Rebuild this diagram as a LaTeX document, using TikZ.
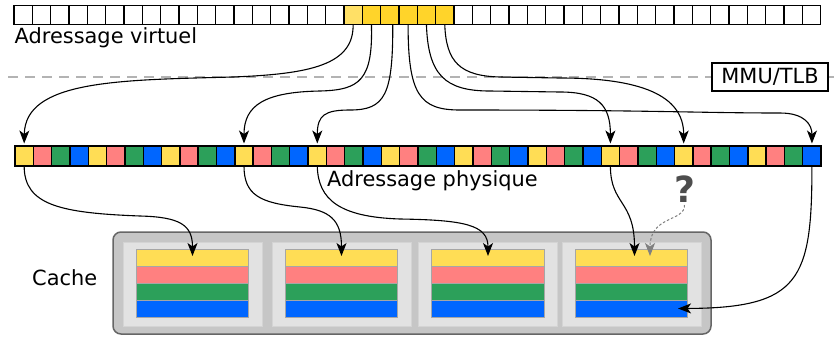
\documentclass[tikz,border=0pt]{standalone}
\usepackage{fontspec}
\setmainfont{DejaVu Sans}
\usetikzlibrary{arrows.meta}

\definecolor{cyel}{HTML}{FFDD55}
\definecolor{cpink}{HTML}{FF8080}
\definecolor{cgreen}{HTML}{2CA05A}
\definecolor{cblue}{HTML}{0066FF}
\definecolor{vyel}{HTML}{FFD42A}
\definecolor{vyellight}{HTML}{FFE066}
\definecolor{dashgray}{HTML}{B3B3B3}
\definecolor{qgray}{HTML}{4D4D4D}
\definecolor{cacheout}{HTML}{C6C6C6}
\definecolor{cacheedge}{HTML}{666666}
\definecolor{panelfill}{HTML}{E2E2E2}
\definecolor{paneledge}{HTML}{D4D4D4}
\colorlet{vfill0}{white}
\colorlet{vfill1}{vyel}
\colorlet{vfill2}{vyellight}
\colorlet{pfill0}{cyel}
\colorlet{pfill1}{cpink}
\colorlet{pfill2}{cgreen}
\colorlet{pfill3}{cblue}

\begin{document}
\begin{tikzpicture}[x=1pt,y=-1pt,
  font=\fontsize{20.9pt}{24pt}\selectfont,
  cell/.style={draw=black, line width=1.4pt, minimum width=18.33pt,
    inner sep=0pt, outer sep=0pt},
  label/.style={inner sep=0pt, anchor=base west},
  panel/.style={fill=panelfill, draw=paneledge, line width=0.8pt,
    minimum width=139pt, minimum height=84pt, inner sep=0pt},
  stripe/.style={draw=black!35, line width=0.6pt, minimum width=112.5pt,
    minimum height=17pt, inner sep=0pt},
  arrowtip/.style={-{Stealth[length=13pt,width=10pt,inset=3.5pt]}},
  link/.style={draw=black, line width=1.1pt, arrowtip},
  guess/.style={draw=gray, line width=1pt, dash pattern=on 2.5pt off 2pt, arrowtip}]

\useasboundingbox (0,0) rectangle (837,338);

% MMU boundary
\coordinate (dl) at (8,77);
\coordinate (dr) at (837,77);
\draw[dashgray, line width=1.2pt, dash pattern=on 10pt off 7pt] (dl) -- (dr);
\node[draw=black, fill=white, line width=1.2pt, minimum width=116pt,
  minimum height=28pt, inner sep=0pt] (mmu) at (770,77) {MMU/TLB};

% virtual address bar
\foreach \i in {0,...,43}{
  \pgfmathtruncatemacro\t{(\i==18) ? 2 : ((\i>18 && \i<24) ? 1 : 0)}
  \node[cell, minimum height=18.5pt, fill=vfill\t] (v\i)
    at ({14+18.33*(\i+0.5)},15) {};
}
\node[label] (vlab) at (14.5,43.5) {Adressage virtuel};

% physical address bar
\foreach \i in {0,...,43}{
  \pgfmathtruncatemacro\k{mod(\i,4)}
  \node[cell, minimum height=20pt, fill=pfill\k] (p\i)
    at ({15+18.32*(\i+0.5)},156) {};
}
\node[label] (plab) at (327,186) {Adressage physique};

% cache
\node[label] (clab) at (32,285) {Cache};
\node[fill=cacheout, draw=cacheedge, line width=1.5pt, rounded corners=8pt,
  minimum width=598pt, minimum height=102pt, inner sep=0pt] (cache) at (412,283) {};
\foreach \n/\cx in {1/192.5, 2/341.5, 3/488, 4/631.5}{
  \node[panel] (k\n) at (\cx,284) {};
  \foreach \s/\c [count=\j from 0] in {y/cyel, r/cpink, g/cgreen, b/cblue}{
    \node[stripe, fill=\c] (c\n\s) at (\cx,{257.5+17*\j}) {};
  }
}

% translation: virtual pages to physical frames
\draw[link] (v18.south) .. controls (354,65) and (310,74) .. (233,77)
  .. controls (120,80) and (25,80) .. ([yshift=2.5pt]p0.north);
\draw[link] (v19.south) .. controls (373,80) and (360,90) .. (320,91)
  .. controls (265,92) and (244,105) .. ([yshift=2.5pt]p12.north);
\draw[link] ([xshift=3pt]v20.south) .. controls (393,95) and (385,110) .. (350,110)
  .. controls (325,110) and (317.3,115) .. ([yshift=2.5pt]p16.north);
\draw[link] (v21.south) .. controls (408,95) and (420,110) .. (460,110)
  .. controls (650,110) and (700,113) .. (780,113)
  .. controls (805,113) and (812,125) .. ([yshift=2.5pt]p43.north);
\draw[link] (v22.south) .. controls (428,75) and (445,91) .. (490,91)
  -- (560,92) .. controls (598,92) and (610.4,105) .. ([yshift=2.5pt]p32.north);
\draw[link] (v23.south) .. controls (446,62) and (460,76) .. (500,77)
  -- (560,78) .. controls (640,78) and (683.7,95) .. ([yshift=2.5pt]p36.north);

% physical frames to cache lines
\draw[link] (p0.south) .. controls (24.2,205) and (60,213) .. (140,216)
  .. controls (180,217) and (192.5,225) .. ([yshift=1.5pt]c1y.center);
\draw[link] (p12.south) .. controls (244,195) and (260,203) .. (300,207)
  .. controls (330,210) and (341.5,220) .. ([yshift=1.5pt]c2y.center);
\draw[link] (p16.south) .. controls (318,200) and (340,217) .. (400,219)
  .. controls (465,220) and (488,225) .. ([yshift=1.5pt]c3y.center);
\draw[link] (p32.south) .. controls (610.4,205) and (634.5,200) .. ([xshift=3pt,yshift=1.5pt]c4y.center);
\draw[link] (p43.south) .. controls (812,280) and (800,308) .. ([xshift=-10pt]c4b.east);

% unknown mapping
\node[inner sep=0pt, anchor=base, text=qgray,
  font=\fontsize{36pt}{40pt}\selectfont\bfseries] (qm) at (684.5,202) {?};
\draw[guess] ([yshift=-3pt]qm.base) .. controls (685,222) and (650,215) .. ([xshift=18.5pt,yshift=1.5pt]c4y.center);

\end{tikzpicture}
\end{document}
